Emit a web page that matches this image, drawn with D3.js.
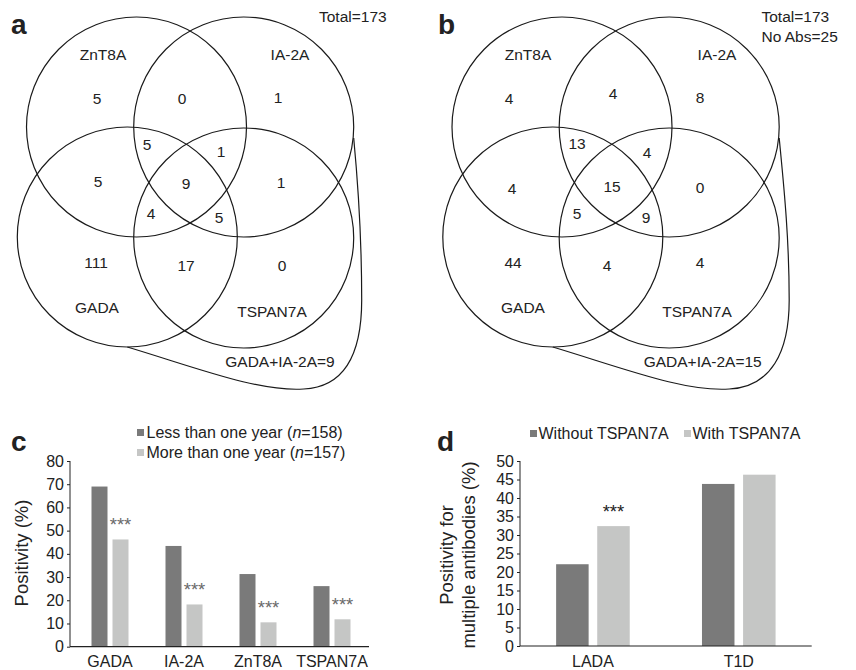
<!DOCTYPE html>
<html lang="en">
<head>
  <meta charset="UTF-8">
  <title>Autoantibody overlap and positivity</title>
  <script src="https://d3js.org/d3.v7.min.js"></script>
  <style>
    body {
      margin: 0;
      background: #fff;
      font-family: "Liberation Sans", Arial, sans-serif;
    }
    svg text { fill: #222; }
  </style>
</head>
<body>
  <svg id="fig" width="856" height="670"></svg>

  <script>
    // Venn circles (a/b share the same layout)
    const vennSets = ["ZnT8A", "IA-2A", "GADA", "TSPAN7A"];

    // region counts, panel a then panel b, in the order of vennRegions
    const vennRegions = ["Z", "ZI", "I", "ZIG", "ZIT", "ZG", "ZIGT", "IT", "ZGT", "IGT", "G", "GT", "T"];
    const countsA = [5, 0, 1, 5, 1, 5, 9, 1, 4, 5, 111, 17, 0];
    const countsB = [4, 4, 8, 13, 4, 4, 15, 0, 5, 9, 44, 4, 4];

    // panel c
    const cCategories = ["GADA", "IA-2A", "ZnT8A", "TSPAN7A"];
    const cLess = [69, 43.4, 31.3, 26.1];
    const cMore = [46.2, 18.2, 10.5, 11.8];
    const cSeries = ["Less than one year", "More than one year"];
    const cN = [158, 157];
    const cTicks = [0, 10, 20, 30, 40, 50, 60, 70, 80];

    // panel d
    const dCategories = ["LADA", "T1D"];
    const dWithout = [22.1, 43.8];
    const dWith = [32.4, 46.3];
    const dSeries = ["Without TSPAN7A", "With TSPAN7A"];
    const dTicks = [0, 5, 10, 15, 20, 25, 30, 35, 40, 45, 50];

    const dark = "#7a7a7a", light = "#c5c6c5";
    const svg = d3.select("#fig");

    // ---------- Venn panels ----------
    const circleLayout = [
      { cx: 136.5, cy: 127 },
      { cx: 243.7, cy: 127 },
      { cx: 127.3, cy: 237 },
      { cx: 243.7, cy: 238 }
    ];
    const setLabelPosA = [[103, 60], [290, 60], [97, 313], [272, 317]];
    const setLabelPosB = [[98, 60], [287, 60], [93, 313], [267, 317]];
    const regionPos = {
      Z: [97, 98], ZI: [182, 98], I: [278, 97], ZIG: [147, 144], ZIT: [221, 151],
      ZG: [98, 181], ZIGT: [186, 183], IT: [281, 182], ZGT: [151, 213], IGT: [219, 217],
      G: [96, 262], GT: [186, 265], T: [282, 265]
    };
    const regionPosB = {
      Z: [79, 98], ZI: [183, 93], I: [270, 97], ZIG: [147, 143], ZIT: [217, 152],
      ZG: [82, 188], ZIGT: [182, 186], IT: [270, 187], ZGT: [147, 213], IGT: [216, 217],
      G: [83, 262], GT: [177, 265], T: [270, 262]
    };

    function venn(ox, letter, counts, pos, labelPos, shiftX, notes, comboText, comboX) {
      const g = svg.append("g").attr("transform", `translate(${ox},0)`);
      const r = 110;
      circleLayout.forEach(c => {
        g.append("circle")
          .attr("cx", c.cx + shiftX).attr("cy", c.cy).attr("r", r)
          .attr("fill", "none").attr("stroke", "#1a1a1a").attr("stroke-width", 1.2);
      });
      // loop joining GADA and IA-2A
      const ex = circleLayout[1].cx + shiftX + r;
      const gx = circleLayout[2].cx + shiftX;
      const bulge = letter === "a" ? 8 : 10;
      g.append("path")
        .attr("d", `M${gx},347 C${gx + 70},368 ${ex - 95},392 ${ex - 50},389 C${ex - 8},387 ${ex + bulge},352 ${ex + bulge},300 C${ex + bulge},235 ${ex + 4},180 ${ex},138`)
        .attr("fill", "none").attr("stroke", "#1a1a1a").attr("stroke-width", 1.2);

      vennSets.forEach((s, i) => {
        g.append("text").attr("x", labelPos[i][0]).attr("y", labelPos[i][1])
          .attr("text-anchor", "middle").attr("font-size", 15.5).text(s);
      });
      vennRegions.forEach((k, i) => {
        g.append("text").attr("x", pos[k][0]).attr("y", pos[k][1] + 5.5)
          .attr("text-anchor", "middle").attr("font-size", 15.5).text(counts[i]);
      });
      notes.forEach((t, i) => {
        g.append("text").attr("x", letter === "a" ? 319 : 331.5).attr("y", 22 + i * 20)
          .attr("font-size", 15.5).text(t);
      });
      g.append("text").attr("x", comboX).attr("y", 366.5)
        .attr("text-anchor", "middle").attr("font-size", 15.5).text(comboText);
      g.append("text").attr("x", letter === "a" ? 11 : 8).attr("y", 34)
        .attr("font-size", 28).attr("font-weight", "bold").text(letter);
    }

    venn(0, "a", countsA, regionPos, setLabelPosA, 0, ["Total=173"],
      "GADA+IA-2A=" + countsA[vennRegions.indexOf("ZIGT")], 280);
    venn(430, "b", countsB, regionPosB, setLabelPosB, -4.5, ["Total=173", "No Abs=25"],
      "GADA+IA-2A=" + countsB[vennRegions.indexOf("ZIGT")], 272.7);

    // ---------- bar panels ----------
    function bars(opt) {
      const g = svg.append("g");
      const y = d3.scaleLinear().domain(opt.domain).range([opt.y0, opt.y1]);
      const x = d3.scaleBand().domain(opt.categories).range(opt.xRange);
      const inner = d3.scaleBand().domain([0, 1])
        .range([x.bandwidth() / 2 - opt.barW - opt.gap / 2, x.bandwidth() / 2 + opt.barW + opt.gap / 2])
        .paddingInner(opt.gap / (opt.barW + opt.gap));

      [opt.s1, opt.s2].forEach((vals, si) => {
        g.append("g").selectAll("rect").data(vals).join("rect")
          .attr("x", (d, i) => x(opt.categories[i]) + inner(si))
          .attr("y", d => y(d))
          .attr("width", inner.bandwidth())
          .attr("height", d => y(0) - y(d))
          .attr("fill", si === 0 ? dark : light);
      });

      // stars
      g.append("g").selectAll("text").data(opt.stars).join("text")
        .attr("x", d => x(opt.categories[d]) + inner(1) + inner.bandwidth() / 2)
        .attr("y", d => y(opt.s2[d]) - 8.5)
        .attr("text-anchor", "middle").attr("font-size", 18.5)
        .style("fill", opt.starColor).text("***");

      const ax = g.append("g").attr("transform", `translate(${opt.axisX},0)`)
        .call(d3.axisLeft(y).tickValues(opt.ticks).tickSize(3).tickPadding(3));
      ax.select(".domain").attr("stroke", "#222").attr("d", `M0,${opt.y0}V${opt.y1}`);
      ax.selectAll(".tick line").attr("stroke", "#222");
      ax.selectAll("text").attr("font-size", 16).attr("font-family", "Liberation Sans, Arial, sans-serif").style("fill", "#222");

      g.append("line").attr("x1", opt.axisX).attr("x2", opt.xEnd)
        .attr("y1", opt.y0).attr("y2", opt.y0).attr("stroke", "#222").attr("stroke-width", 1.2);

      g.append("g").selectAll("text").data(opt.categories).join("text")
        .attr("x", d => x(d) + x.bandwidth() / 2).attr("y", 667)
        .attr("text-anchor", "middle").attr("font-size", 16).text(d => d);

      opt.yLabel.forEach((t, i) => {
        g.append("text")
          .attr("transform", `translate(${opt.yLabelX[i]},${opt.yLabelY}) rotate(-90)`)
          .attr("text-anchor", "middle").attr("font-size", 18.5).text(t);
      });

      g.append("text").attr("x", opt.letterX).attr("y", 451)
        .attr("font-size", 28).attr("font-weight", "bold").text(opt.letter);
      return g;
    }

    const gc = bars({
      categories: cCategories, s1: cLess, s2: cMore, domain: [0, 80], ticks: cTicks,
      y0: 646.7, y1: 461, xRange: [73, 369], axisX: 70, xEnd: 369, barW: 16, gap: 5,
      stars: [0, 1, 2, 3], starColor: "#6a6a6a",
      yLabel: ["Positivity (%)"], yLabelX: [28], yLabelY: 553, letter: "c", letterX: 11
    });
    cSeries.forEach((s, i) => {
      gc.append("rect").attr("x", 137).attr("y", 429 + i * 20).attr("width", 7).attr("height", 7)
        .attr("fill", i === 0 ? dark : light);
      const t = gc.append("text").attr("x", 146.5).attr("y", 438 + i * 20).attr("font-size", 16);
      t.append("tspan").text(s + " (");
      t.append("tspan").attr("font-style", "italic").text("n");
      t.append("tspan").text("=" + cN[i] + ")");
    });

    const gd = bars({
      categories: dCategories, s1: dWithout, s2: dWith, domain: [0, 50], ticks: dTicks,
      y0: 646, y1: 461, xRange: [520, 811.7], axisX: 520, xEnd: 811.7, barW: 32.5, gap: 8.6,
      stars: [0], starColor: "#222",
      yLabel: ["Positivity for", "multiple antibodies (%)"], yLabelX: [453, 475], yLabelY: 555,
      letter: "d", letterX: 437
    });
    const legX = [530, 684];
    dSeries.forEach((s, i) => {
      gd.append("rect").attr("x", legX[i]).attr("y", 430).attr("width", 7).attr("height", 7)
        .attr("fill", i === 0 ? dark : light);
      gd.append("text").attr("x", legX[i] + 8.5).attr("y", 439).attr("font-size", 16).text(s);
    });
  </script>
</body>
</html>
